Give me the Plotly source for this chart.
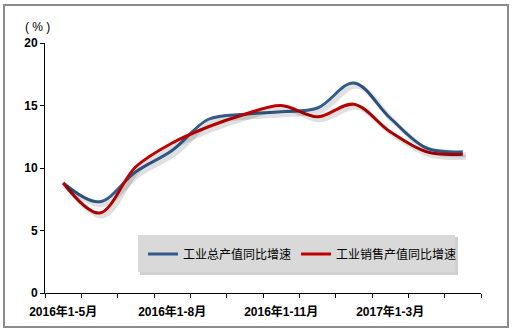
import plotly.graph_objects as go

categories = ["2016年1-5月", "2016年1-6月", "2016年1-7月", "2016年1-8月", "2016年1-9月",
              "2016年1-10月", "2016年1-11月", "2016年1-12月", "2017年1-2月", "2017年1-3月",
              "2017年1-4月", "2017年1-5月"]
gross_output = [8.8, 7.3, 9.7, 11.4, 13.9, 14.3, 14.5, 14.8, 16.8, 14.0, 11.6, 11.3]
sales_output = [8.8, 6.4, 10.1, 12.0, 13.3, 14.3, 15.0, 14.1, 15.1, 12.9, 11.3, 11.1]
series_names = ["工业总产值同比增速", "工业销售产值同比增速"]
colors = ["#335C8C", "#C00000"]
y_ticks = [0, 5, 10, 15, 20]
label_every = 3

W, H = 514, 335
L, R, T, B = 45, 30, 43, 39
pw, ph = W - L - R, H - T - B
dx, dy = 3 / pw, 3 / ph

idx = list(range(len(categories)))
fig = go.Figure()

# shadows (same data on slightly offset axes)
for vals in (gross_output, sales_output):
    fig.add_trace(go.Scatter(x=idx, y=vals, mode="lines", xaxis="x2", yaxis="y2",
                             line=dict(color="rgba(0,0,0,0.12)", width=5, shape="spline", smoothing=1.0),
                             showlegend=False, hoverinfo="skip"))

for name, vals, c in zip(series_names, (gross_output, sales_output), colors):
    fig.add_trace(go.Scatter(x=idx, y=vals, mode="lines", name=name,
                             line=dict(color=c, width=3, shape="spline", smoothing=1.0)))

tick_font = dict(family="Liberation Sans, Arial, Noto Sans CJK SC", size=12, color="#000", weight="bold")

fig.update_layout(
    width=W, height=H,
    margin=dict(l=L, r=R, t=T, b=B),
    paper_bgcolor="white", plot_bgcolor="rgba(0,0,0,0)",
    xaxis=dict(domain=[0, 1 - dx], range=[-0.5, len(categories) - 0.5],
               tickvals=idx[::label_every], ticktext=categories[::label_every],
               ticks="", showgrid=False, zeroline=False,
               showline=True, linecolor="#000", linewidth=1,
               tickfont=tick_font, ticklabelstandoff=8,
               minor=dict(tickvals=[i - 0.5 for i in range(len(categories) + 1)],
                          ticks="outside", ticklen=4, tickcolor="#000", tickwidth=1, showgrid=False)),
    yaxis=dict(domain=[dy, 1], range=[0, 20], tickvals=y_ticks, ticks="outside", ticklen=4,
               tickcolor="#000", showgrid=False, zeroline=False,
               showline=True, linecolor="#000", linewidth=1, tickfont=tick_font),
    xaxis2=dict(domain=[dx, 1], range=[-0.5, len(categories) - 0.5], visible=False),
    yaxis2=dict(domain=[0, 1 - dy], range=[0, 20], visible=False, anchor="x2"),
    showlegend=True,
    legend=dict(orientation="h", x=(143 - L) / pw, y=(T + ph - 254) / ph, xanchor="left", yanchor="middle",
                bgcolor="rgba(0,0,0,0)", font=dict(family="Noto Sans CJK SC", size=12, color="#000"),
                itemwidth=30, tracegroupgap=0),
    annotations=[dict(text="( % )", xref="paper", yref="paper", x=(23 - L) / pw, y=(T + ph - 18) / ph,
                      showarrow=False, font=dict(family="Liberation Sans, Arial", size=12, color="#000"))],
    shapes=[
        dict(type="rect", xref="paper", yref="paper",
             x0=(4 - L) / pw, x1=(508 - L) / pw, y0=(T + ph - 327) / ph, y1=(T + ph - 5) / ph,
             line=dict(color="#8C8C8C", width=2), fillcolor="rgba(0,0,0,0)", layer="below"),
        dict(type="rect", xref="paper", yref="paper",
             x0=(140 - L) / pw, x1=(458 - L) / pw, y0=(T + ph - 275) / ph, y1=(T + ph - 237) / ph,
             line=dict(width=0), fillcolor="rgba(0,0,0,0.18)", layer="above"),
        dict(type="rect", xref="paper", yref="paper",
             x0=(138 - L) / pw, x1=(455 - L) / pw, y0=(T + ph - 272) / ph, y1=(T + ph - 235) / ph,
             line=dict(width=0), fillcolor="#D9D9D9", layer="above"),
    ],
)

fig.write_html("out.html")
